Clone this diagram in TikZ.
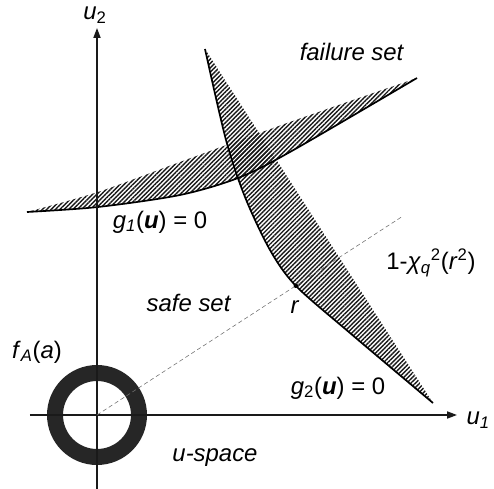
\documentclass[tikz,border=0pt]{standalone}
\usepackage{fontspec}
\setmainfont{Liberation Sans}
\usetikzlibrary{arrows.meta,patterns.meta}
\definecolor{axisc}{HTML}{1A1A1A}
\definecolor{ringc}{HTML}{262626}
\definecolor{dashc}{HTML}{6E6E6E}
\newcommand{\bu}{\textbf{\textit{u}}}

\tikzset{
  axisline/.style={line width=1.1pt,axisc,-{Triangle[length=7pt,width=5pt]}},
  limitline/.style={line width=1.2pt,black},
  hatch/.style={pattern={Lines[angle=45,distance=2.2pt,line width=1pt]},pattern color=black!90},
  lbl/.style={font=\fontsize{17}{20}\selectfont},
}

\begin{document}
\begin{tikzpicture}
  \useasboundingbox (-2.425,-1.825) rectangle (9.925,10.375);
  % hatched bands (failure domains of the two limit states)
  \fill[hatch] plot[smooth] coordinates {(-1.75,5.075) (0.025,5.2) (2.075,5.5) (3.525,5.925) (4.825,6.575) (8.0,8.425)}
        -- plot[smooth] coordinates {(8.0,8.425) (4.825,7.325) (2.075,6.325) (0.025,5.575) (-1.75,5.075)} -- cycle;
  \fill[hatch] plot[smooth] coordinates {(2.7,9.15) (3.225,6.875) (3.7,5.45) (4.325,4.125) (4.97,3.23) (6.325,2.05) (8.4,0.3)} -- cycle;
  % limit state surfaces
  \draw[limitline] plot[smooth] coordinates {(-1.75,5.075) (0.025,5.2) (2.075,5.5) (3.525,5.925) (4.825,6.575) (8.0,8.425)};
  \draw[limitline] plot[smooth] coordinates {(2.7,9.15) (3.225,6.875) (3.7,5.45) (4.325,4.125) (4.97,3.23) (6.325,2.05) (8.4,0.3)};
  % density of a as a ring round the origin
  \fill[ringc,even odd rule] (0,0) circle (1.25) (0,0) circle (0.85);
  % axes
  \coordinate (o) at (0,0);
  \coordinate (xend) at (9.0,0);
  \coordinate (yend) at (0,9.675);
  \draw[axisline] (-1.675,0) -- (xend);
  \draw[axisline] (0,-1.95) -- (yend);
  % radius to the design point
  \coordinate (dend) at (7.65,4.975);
  \coordinate (r) at (4.97,3.23);
  \draw[dashc,densely dashed,line width=0.4pt] (o) -- (dend);
  \fill (r) circle (0.055);
  % labels
  \node[lbl] (u2) at (-0.05,10.0) {\textit{u}\textsubscript{2}};
  \node[lbl,anchor=west,inner sep=1pt] (u1) at (9.2,-0.13) {\textit{u}\textsubscript{\textit{1}}};
  \node[lbl] (fail) at (6.375,9.075) {\textit{failure set}};
  \node[lbl] (g1) at (1.575,4.825) {\textit{g}\textsubscript{\textit{1}}(\bu) = 0};
  \node[lbl] (safe) at (2.3,2.8) {\textit{safe set}};
  \node[lbl] (chi) at (8.35,3.8) {1-\textit{χ}\textsubscript{\textit{q}}\textsuperscript{2}(\textit{r}\textsuperscript{2})};
  \node[lbl] (rl) at (4.95,2.7) {\textit{r}};
  \node[lbl] (g2) at (6.025,0.675) {\textit{g}\textsubscript{2}(\bu) = 0};
  \node[lbl] (us) at (2.95,-1.075) {\textit{u-space}};
  \node[lbl] (fa) at (-1.5,1.575) {\textit{f}\textsubscript{\textit{A}}(\textit{a})};
\end{tikzpicture}
\end{document}
